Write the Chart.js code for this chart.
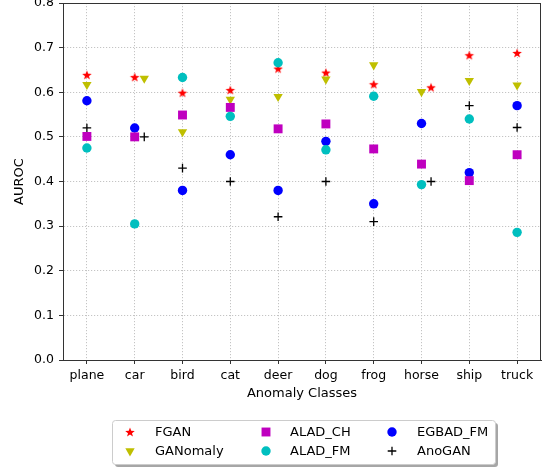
<!DOCTYPE html>
<html>
<head>
<meta charset="utf-8">
<script src="https://cdn.jsdelivr.net/npm/chart.js@4.4.1/dist/chart.umd.min.js"></script>
<style>
  html, body { margin: 0; padding: 0; background: #fff; }
  canvas { display: block; }
</style>
</head>
<body>
<canvas id="chart" width="543" height="467"></canvas>
<script>
"use strict";

// data
var CLASSES = ["plane", "car", "bird", "cat", "deer", "dog", "frog", "horse", "ship", "truck"];
var Y_TICKS = [0.0, 0.1, 0.2, 0.3, 0.4, 0.5, 0.6, 0.7, 0.8];

var FGAN     = [0.639, 0.634, 0.599, 0.605, 0.653, 0.644, 0.618, 0.611, 0.683, 0.688];
var GANOMALY = [0.617, 0.631, 0.511, 0.584, 0.590, 0.629, 0.661, 0.601, 0.626, 0.616];
var ALAD_CH  = [0.501, 0.500, 0.549, 0.566, 0.518, 0.529, 0.473, 0.439, 0.402, 0.460];
var ALAD_FM  = [0.475, 0.305, 0.633, 0.546, 0.666, 0.471, 0.591, 0.393, 0.540, 0.286];
var EGBAD_FM = [0.581, 0.520, 0.380, 0.460, 0.380, 0.490, 0.350, 0.530, 0.420, 0.570];
var ANOGAN   = [0.520, 0.500, 0.430, 0.400, 0.321, 0.400, 0.310, 0.400, 0.570, 0.521];

// a few markers sit slightly right of their class in the original
var FGAN_SHIFT     = [0, 0, 0, 0, 0, 0, 0, 0.2, 0, 0];
var GANOMALY_SHIFT = [0, 0.2, 0, 0, 0, 0, 0, 0, 0, 0];
var ANOGAN_SHIFT   = [0, 0.2, 0, 0, 0, 0, 0, 0.2, 0, 0];

var FONT = "'DejaVu Sans', sans-serif";

function pts(values, shift) {
  return values.map(function (v, i) { return { x: i + (shift ? shift[i] : 0), y: v }; });
}

// filled five-point star (Chart.js only has an asterisk 'star')
function makeStar(color, R) {
  var r = R * 0.42;
  var size = Math.ceil(R * 2 + 2);
  var c = document.createElement("canvas");
  c.width = size; c.height = size;
  var g = c.getContext("2d");
  g.fillStyle = color;
  g.beginPath();
  for (var k = 0; k < 10; k++) {
    var rad = k % 2 ? r : R;
    var a = -Math.PI / 2 + k * Math.PI / 5;
    var px = size / 2 + rad * Math.cos(a);
    var py = size / 2 + R * 0.1 + rad * Math.sin(a);
    if (k === 0) g.moveTo(px, py); else g.lineTo(px, py);
  }
  g.closePath();
  g.fill();
  return c;
}

var starImg = makeStar("#ff0000", 5);

var SERIES = [
  { label: "FGAN",     data: FGAN,     shift: FGAN_SHIFT,     style: starImg,    color: "#ff0000", radius: 5,   rot: 0,   order: 6 },
  { label: "GANomaly", data: GANOMALY, shift: GANOMALY_SHIFT, style: "triangle", color: "#bfbf00", radius: 5.4, rot: 180, order: 5 },
  { label: "ALAD_CH",  data: ALAD_CH,  shift: null,           style: "rect",     color: "#bf00bf", radius: 6.3, rot: 0,   order: 2 },
  { label: "ALAD_FM",  data: ALAD_FM,  shift: null,           style: "circle",   color: "#00bfbf", radius: 4.7, rot: 0,   order: 1 },
  { label: "EGBAD_FM", data: EGBAD_FM, shift: null,           style: "circle",   color: "#0000ff", radius: 4.7, rot: 0,   order: 3 },
  { label: "AnoGAN",   data: ANOGAN,   shift: ANOGAN_SHIFT,   style: "cross",    color: "#000000", radius: 4.3, rot: 0,   order: 4 },
];

var datasets = SERIES.map(function (s) {
  var isCross = s.style === "cross";
  return {
    label: s.label,
    data: pts(s.data, s.shift),
    pointStyle: s.style,
    pointRadius: s.radius,
    pointHoverRadius: s.radius,
    pointRotation: s.rot,
    backgroundColor: s.color,
    borderColor: s.color,
    borderWidth: isCross ? 1.3 : 0,
    order: s.order,
  };
});

// matplotlib-like frame on all four sides
var framePlugin = {
  id: "frame",
  afterDraw: function (chart) {
    var a = chart.chartArea, ctx = chart.ctx;
    ctx.save();
    ctx.strokeStyle = "#333333";
    ctx.lineWidth = 1;
    ctx.strokeRect(Math.round(a.left) + 0.5, Math.round(a.top) + 0.5,
      Math.round(a.right - a.left) - 1, Math.round(a.bottom - a.top));
    ctx.restore();
  },
};

// three-column legend box below the axes, column-major like matplotlib
var legendPlugin = {
  id: "boxLegend",
  afterDraw: function (chart) {
    var ctx = chart.ctx;
    var bx = 112, by = 420, bw = 383, bh = 44;
    ctx.save();
    // shadow
    ctx.fillStyle = "rgba(0,0,0,0.35)";
    roundRect(ctx, bx + 3, by + 3, bw, bh, 3);
    ctx.fill();
    ctx.fillStyle = "#ffffff";
    ctx.strokeStyle = "#cccccc";
    ctx.lineWidth = 1;
    roundRect(ctx, bx + 0.5, by + 0.5, bw, bh, 3);
    ctx.fill();
    ctx.stroke();

    var colMarker = [130, 266, 392];
    var colText = [155, 290, 417];
    var rowY = [432, 451];
    ctx.font = "13px " + FONT;
    ctx.textBaseline = "middle";
    ctx.textAlign = "left";
    SERIES.forEach(function (s, i) {
      var col = Math.floor(i / 2), row = i % 2;
      ctx.fillStyle = s.color;
      ctx.strokeStyle = s.color;
      ctx.lineWidth = s.style === "cross" ? 1.3 : 0;
      Chart.helpers.drawPoint(ctx, {
        pointStyle: s.style, radius: s.radius, rotation: s.rot,
        borderWidth: s.style === "cross" ? 1.3 : 0,
      }, colMarker[col], rowY[row]);
      ctx.fillStyle = "#000000";
      ctx.fillText(s.label, colText[col], rowY[row] + 0.5);
    });
    ctx.restore();
  },
};

function roundRect(ctx, x, y, w, h, r) {
  ctx.beginPath();
  ctx.moveTo(x + r, y);
  ctx.lineTo(x + w - r, y);
  ctx.arcTo(x + w, y, x + w, y + r, r);
  ctx.lineTo(x + w, y + h - r);
  ctx.arcTo(x + w, y + h, x + w - r, y + h, r);
  ctx.lineTo(x + r, y + h);
  ctx.arcTo(x, y + h, x, y + h - r, r);
  ctx.lineTo(x, y + r);
  ctx.arcTo(x, y, x + r, y, r);
  ctx.closePath();
}

function noEdgePadding(scale) {
  scale.paddingTop = 0;
  scale.paddingBottom = 0;
  scale.paddingLeft = 0;
  scale.paddingRight = 0;
}

new Chart(document.getElementById("chart"), {
  type: "scatter",
  data: { datasets: datasets },
  options: {
    responsive: false,
    animation: false,
    events: [],
    layout: { autoPadding: false, padding: { left: 0, right: 2, top: 3, bottom: 65 } },
    plugins: { legend: { display: false }, tooltip: { enabled: false } },
    scales: {
      x: {
        type: "linear",
        min: -0.5, max: 9.5,
        afterBuildTicks: function (scale) {
          scale.ticks = CLASSES.map(function (c, i) { return { value: i }; });
        },
        afterFit: function (scale) { scale.height = 42; noEdgePadding(scale); },
        ticks: {
          callback: function (v) { return CLASSES[v]; },
          color: "#000000",
          font: { family: FONT, size: 12.5 },
          padding: 4,
          maxRotation: 0,
          autoSkip: false,
        },
        grid: { color: "#c4c4c4", tickColor: "#333333", tickLength: 4, tickBorderDash: [] },
        border: { display: true, color: "#333333", dash: [1.2, 1.8] },
        title: {
          display: true, text: "Anomaly Classes", color: "#000000",
          font: { family: FONT, size: 13 }, padding: { top: 0, bottom: 1 },
        },
      },
      y: {
        min: 0, max: 0.8,
        afterBuildTicks: function (scale) {
          scale.ticks = Y_TICKS.map(function (v) { return { value: v }; });
        },
        afterFit: function (scale) { scale.width = 63; noEdgePadding(scale); },
        ticks: {
          callback: function (v) { return v.toFixed(1); },
          color: "#000000",
          font: { family: FONT, size: 12.5 },
          padding: 5,
        },
        grid: { color: "#c4c4c4", tickColor: "#333333", tickLength: 4, tickBorderDash: [] },
        border: { display: true, color: "#333333", dash: [1.2, 1.8] },
        title: {
          display: true, text: "AUROC", color: "#000000",
          font: { family: FONT, size: 13 }, padding: { top: 12, bottom: 0 },
        },
      },
    },
  },
  plugins: [framePlugin, legendPlugin],
});
</script>
</body>
</html>
